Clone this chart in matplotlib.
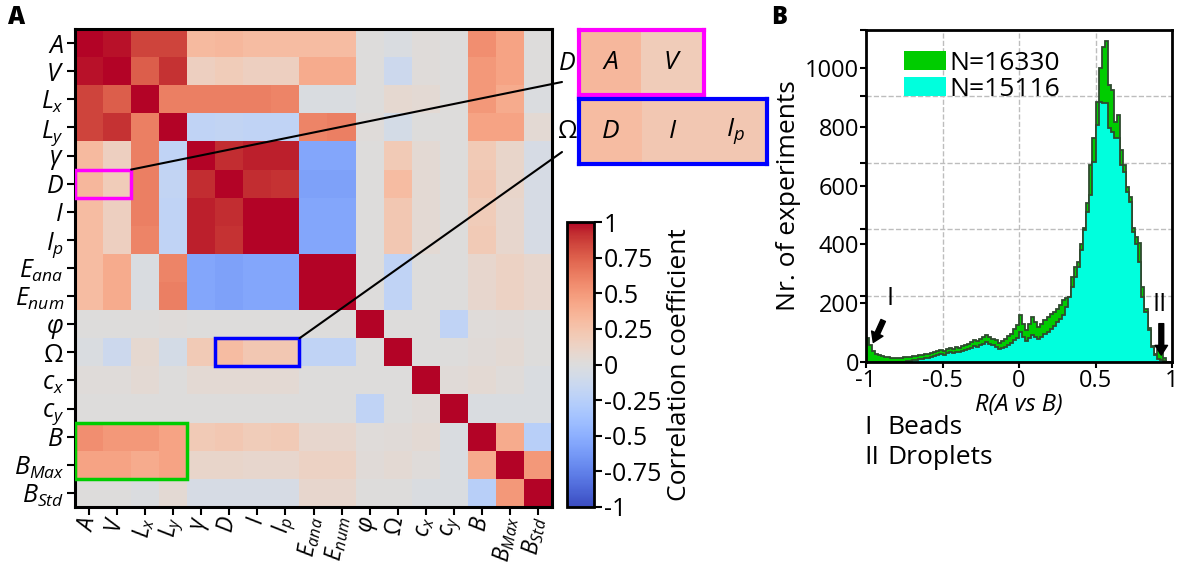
import numpy as np
import matplotlib
matplotlib.use('Agg')
import matplotlib.pyplot as plt
from matplotlib.patches import Rectangle, Patch, ConnectionPatch
from matplotlib.ticker import LinearLocator

plt.rcParams['font.family'] = ['Open Sans', 'DejaVu Sans']
plt.rcParams['mathtext.fontset'] = 'custom'
plt.rcParams['mathtext.rm'] = 'Open Sans'
plt.rcParams['mathtext.it'] = 'Open Sans:italic'
plt.rcParams['mathtext.bf'] = 'Open Sans:bold'

# ---- data ----
var_labels = [r'$A$', r'$V$', r'$L_x$', r'$L_y$', r'$\gamma$', r'$D$', r'$I$', r'$I_p$',
              r'$E_{ana}$', r'$E_{num}$', r'$\varphi$', r'$\Omega$', r'$c_x$', r'$c_y$',
              r'$B$', r'$B_{Max}$', r'$B_{Std}$']

corr = [
    [1.00, 0.97, 0.85, 0.85, 0.32, 0.33, 0.30, 0.30, 0.30, 0.30, 0.00, -0.03, 0.02, 0.00, 0.55, 0.45, 0.00],
    [0.97, 1.00, 0.75, 0.90, 0.15, 0.18, 0.15, 0.15, 0.40, 0.40, 0.00, -0.12, 0.02, 0.00, 0.50, 0.45, 0.00],
    [0.85, 0.75, 1.00, 0.62, 0.62, 0.62, 0.62, 0.60, -0.03, -0.03, 0.00, 0.07, 0.05, 0.00, 0.50, 0.40, -0.02],
    [0.85, 0.90, 0.62, 1.00, -0.20, -0.18, -0.20, -0.20, 0.60, 0.62, 0.02, -0.07, 0.00, 0.00, 0.45, 0.45, 0.05],
    [0.32, 0.15, 0.62, -0.20, 1.00, 0.92, 0.95, 0.95, -0.55, -0.55, 0.00, 0.20, 0.05, 0.00, 0.20, 0.10, -0.05],
    [0.33, 0.18, 0.62, -0.18, 0.92, 1.00, 0.92, 0.90, -0.58, -0.58, 0.00, 0.30, 0.05, 0.00, 0.22, 0.10, -0.05],
    [0.30, 0.15, 0.62, -0.20, 0.95, 0.92, 1.00, 1.00, -0.55, -0.55, 0.00, 0.22, 0.05, 0.00, 0.18, 0.08, -0.05],
    [0.30, 0.15, 0.60, -0.20, 0.95, 0.90, 1.00, 1.00, -0.55, -0.55, 0.00, 0.22, 0.05, 0.00, 0.20, 0.08, -0.05],
    [0.30, 0.40, -0.03, 0.60, -0.55, -0.58, -0.55, -0.55, 1.00, 1.00, 0.00, -0.20, 0.00, 0.00, 0.08, 0.13, 0.08],
    [0.30, 0.40, -0.03, 0.62, -0.55, -0.58, -0.55, -0.55, 1.00, 1.00, 0.00, -0.20, 0.00, 0.00, 0.08, 0.13, 0.08],
    [0.00, 0.00, 0.00, 0.02, 0.00, 0.00, 0.00, 0.00, 0.00, 0.00, 1.00, 0.00, 0.00, -0.20, 0.02, 0.03, 0.00],
    [-0.03, -0.12, 0.07, -0.07, 0.20, 0.30, 0.22, 0.22, -0.20, -0.20, 0.00, 1.00, 0.00, 0.00, 0.03, 0.05, 0.00],
    [0.02, 0.02, 0.05, 0.00, 0.05, 0.05, 0.05, 0.05, 0.00, 0.00, 0.00, 0.00, 1.00, 0.03, 0.05, 0.02, -0.03],
    [0.00, 0.00, 0.00, 0.00, 0.00, 0.00, 0.00, 0.00, 0.00, 0.00, -0.20, 0.00, 0.03, 1.00, -0.03, -0.03, -0.03],
    [0.55, 0.50, 0.50, 0.45, 0.20, 0.22, 0.18, 0.20, 0.08, 0.08, 0.02, 0.03, 0.05, -0.03, 1.00, 0.40, -0.25],
    [0.45, 0.45, 0.40, 0.45, 0.10, 0.10, 0.08, 0.08, 0.13, 0.13, 0.03, 0.05, 0.02, -0.03, 0.40, 1.00, 0.50],
    [0.00, 0.00, -0.02, 0.05, -0.05, -0.05, -0.05, -0.05, 0.08, 0.08, 0.00, 0.00, -0.03, -0.03, -0.25, 0.50, 1.00],
]

cbar_ticks = [-1, -0.75, -0.5, -0.25, 0, 0.25, 0.5, 0.75, 1]
cbar_labels = ['-1', '-0.75', '-0.5', '-0.25', '0', '0.25', '0.5', '0.75', '1']

# histogram counts, bins of 0.02 from -1 to 1
counts_all = [82, 58, 37, 27, 24, 20, 17, 17, 14, 14,
              14, 14, 17, 17, 17, 20, 20, 24, 24, 27,
              27, 31, 34, 37, 41, 37, 44, 48, 44, 51,
              48, 54, 58, 61, 68, 75, 71, 78, 85, 92,
              85, 78, 75, 65, 71, 78, 88, 95, 112, 126,
              160, 129, 109, 129, 153, 136, 119, 129, 143, 153,
              163, 170, 180, 194, 211, 218, 221, 289, 323, 340,
              401, 456, 541, 670, 762, 884, 1000, 1071, 1092, 942,
              925, 816, 840, 721, 670, 595, 560, 456, 425, 405,
              255, 180, 115, 55, 28, 41, 31, 14, 0, 0]
counts_sel = [0, 0, 0, 0, 0, 0, 0, 0, 0, 0,
              0, 0, 0, 3, 3, 7, 7, 10, 10, 14,
              14, 17, 20, 24, 27, 24, 31, 34, 31, 34,
              34, 37, 41, 44, 48, 54, 51, 58, 61, 68,
              61, 58, 51, 44, 48, 51, 58, 65, 75, 82,
              102, 85, 71, 82, 92, 85, 78, 85, 95, 102,
              112, 122, 136, 146, 160, 187, 221, 255, 289, 323,
              381, 449, 510, 568, 680, 806, 884, 881, 881, 796,
              782, 762, 762, 670, 646, 578, 544, 442, 401, 340,
              221, 170, 109, 51, 24, 10, 7, 3, 0, 0]
n_labels = ['N=16330', 'N=15116']
hist_xticks = [-1, -0.5, 0, 0.5, 1]
hist_xlabels = ['-1', '-0.5', '0', '0.5', '1']
hist_yticks = [0, 200, 400, 600, 800, 1000]

W, H = 1179, 564
fig = plt.figure(figsize=(W / 100, H / 100), dpi=100)

# ---- panel A: heatmap ----
ax = fig.add_axes([75 / W, 1 - 507 / H, 477 / W, 478 / H])
mat = np.array(corr)
im = ax.imshow(mat, cmap='coolwarm', vmin=-1, vmax=1, aspect='auto', interpolation='nearest')
n = len(var_labels)
ax.set_xticks(range(n))
ax.set_yticks(range(n))
ax.set_xticklabels(var_labels, rotation=80, ha='right', va='center', rotation_mode='anchor', fontsize=16.5)
ax.set_yticklabels(var_labels, fontsize=18)
ax.tick_params(length=6, width=1.5, pad=2)
ax.tick_params(axis='x', pad=1)
for s in ax.spines.values():
    s.set_linewidth(2.2)

ax.add_patch(Rectangle((-0.5, 4.5), 2, 1, fill=False, ec='#ff00ff', lw=2.5, zorder=5))
ax.add_patch(Rectangle((4.5, 10.5), 3, 1, fill=False, ec='#0000ff', lw=2.5, zorder=5))
ax.add_patch(Rectangle((-0.5, 13.5), 4, 2, fill=False, ec='#00cc00', lw=2.5, zorder=5))

# zoom insets
axm = fig.add_axes([579 / W, 1 - 95 / H, 125 / W, 65 / H])
axm.imshow(mat[5:6, 0:2], cmap='coolwarm', vmin=-1, vmax=1, aspect='auto')
for j, lab in enumerate(var_labels[0:2]):
    axm.text(j, 0, lab, ha='center', va='center', fontsize=19)
axb = fig.add_axes([579 / W, 1 - 164 / H, 188 / W, 65 / H])
axb.imshow(mat[11:12, 5:8], cmap='coolwarm', vmin=-1, vmax=1, aspect='auto')
for j, lab in enumerate(var_labels[5:8]):
    axb.text(j, 0, lab, ha='center', va='center', fontsize=19)
for a, c in [(axm, '#ff00ff'), (axb, '#0000ff')]:
    a.set_xticks([])
    a.set_yticks([])
    for s in a.spines.values():
        s.set_color(c)
        s.set_linewidth(3)
fig.text(567 / W, 1 - 63 / H, var_labels[5], ha='center', va='center', fontsize=18)
fig.text(567 / W, 1 - 132 / H, var_labels[11], ha='center', va='center', fontsize=18)

for xy, end in [((1.5, 4.5), (562 / W, 1 - 82 / H)), ((7.5, 10.5), (562 / W, 1 - 152 / H))]:
    con = ConnectionPatch(xyA=xy, coordsA=ax.transData, xyB=end, coordsB=fig.transFigure,
                          color='k', lw=1.5)
    fig.add_artist(con)

# colorbar
cax = fig.add_axes([567 / W, 1 - 507 / H, 27 / W, 285 / H])
cb = fig.colorbar(im, cax=cax, ticks=cbar_ticks)
cb.ax.set_yticklabels(cbar_labels, fontsize=18)
cb.ax.tick_params(length=6, width=1.5, pad=1)
cb.outline.set_linewidth(2)
cb.set_label('Correlation coefficient', fontsize=19, labelpad=4)

fig.text(8 / W, 1 - 18 / H, 'A', fontsize=17, fontweight='heavy', va='center')

# ---- panel B: histogram ----
axh = fig.add_axes([866 / W, 1 - 362 / H, 306 / W, 332 / H])
edges = np.linspace(-1, 1, len(counts_all) + 1)
axh.stairs(counts_all, edges, fill=True, facecolor='#00cc00', edgecolor='#2f4a2f', linewidth=1.3)
axh.stairs(counts_sel, edges, fill=True, facecolor='#00ffdd', edgecolor='#2f4a2f', linewidth=1.3)
axh.set_xlim(-1, 1)
axh.set_ylim(0, 1130)
axh.set_xticks(hist_xticks)
axh.set_xticklabels(hist_xlabels, fontsize=17)
axh.set_yticks(hist_yticks)
axh.set_yticklabels([str(v) for v in hist_yticks], fontsize=17)
axh.yaxis.set_minor_locator(LinearLocator(6))
axh.tick_params(which='both', length=4, width=1.5, pad=1)
axh.grid(which='minor', axis='y', ls='--', color='#bdbdbd', lw=1)
axh.grid(which='major', axis='x', ls='--', color='#bdbdbd', lw=1)
axh.set_axisbelow(True)
for s in axh.spines.values():
    s.set_linewidth(2)
axh.set_xlabel('R(A vs B)', fontsize=17, style='italic', labelpad=0)
axh.set_ylabel('Nr. of experiments', fontsize=19, labelpad=3)

handles = [Patch(facecolor='#00cc00'), Patch(facecolor='#00ffdd')]
axh.legend(handles, n_labels, loc='upper left', bbox_to_anchor=(0.09, 0.97), frameon=False,
           fontsize=19, handlelength=1.6, handleheight=0.7, handletextpad=0.1,
           labelspacing=0.05, borderaxespad=0)

axh.annotate('', xy=(-0.96, 58), xytext=(-0.88, 150),
             arrowprops=dict(arrowstyle='simple,head_width=0.9,head_length=0.7,tail_width=0.35', color='k'))
axh.text(-0.84, 215, 'I', fontsize=18, ha='center', va='center')
axh.annotate('', xy=(0.93, 14), xytext=(0.93, 140),
             arrowprops=dict(arrowstyle='simple,head_width=0.9,head_length=0.7,tail_width=0.35', color='k'))
axh.text(0.92, 195, 'II', fontsize=18, ha='center', va='center')

fig.text(864 / W, 1 - 428 / H, 'I', fontsize=19, va='center')
fig.text(887 / W, 1 - 428 / H, 'Beads', fontsize=19, va='center')
fig.text(864 / W, 1 - 457 / H, 'II', fontsize=19, va='center')
fig.text(887 / W, 1 - 457 / H, 'Droplets', fontsize=19, va='center')

fig.text(771 / W, 1 - 18 / H, 'B', fontsize=17, fontweight='heavy', va='center')

fig.savefig('out.png', dpi=100)
